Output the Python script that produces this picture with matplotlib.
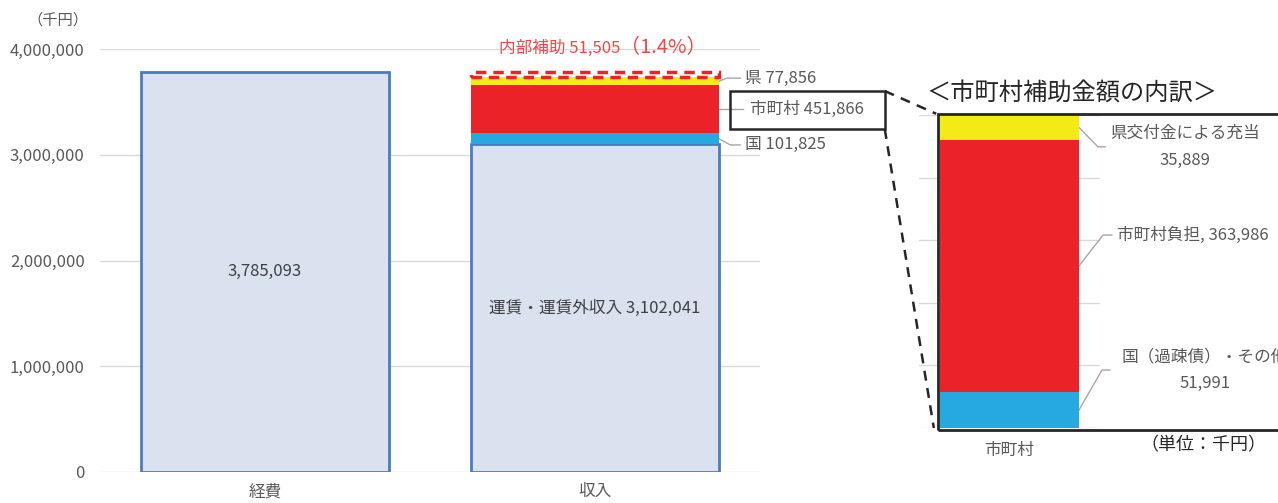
import matplotlib
matplotlib.use("Agg")
import matplotlib.pyplot as plt
from matplotlib.patches import Rectangle
from matplotlib.lines import Line2D

plt.rcParams['font.family'] = ['Noto Sans CJK JP', 'DejaVu Sans']

#%% data (千円)
categories = ['経費', '収入']
expense_total = 3785093
fare_income = 3102041
income_parts = ['国', '市町村', '県']
income_values = [101825, 451866, 77856]
internal_subsidy = 51505

detail_category = '市町村'
detail_parts = ['国（過疎債）・その他', '市町村負担', '県交付金による充当']
detail_values = [51991, 363986, 35889]

yticks = [0, 1000000, 2000000, 3000000, 4000000]

#%% colours
base_fill = '#DAE2EF'
base_edge = '#4A7CC2'
part_colors = ['#25A9E0', '#EB2227', '#F3EA16']
text_gray = '#595959'
grid_gray = '#D9D9D9'

fig = plt.figure(figsize=(12.78, 5.03), dpi=100)

#%% main chart
ax = fig.add_axes([100/1278, 31/503, 660/1278, 423/503])
w = 0.75
ax.bar(0, expense_total, width=w, color=base_fill, edgecolor=base_edge, linewidth=2, zorder=2)
ax.bar(1, fare_income, width=w, color=base_fill, edgecolor=base_edge, linewidth=2, zorder=2)
bottom = fare_income
mids = []
for val, col in zip(income_values, part_colors):
    ax.bar(1, val, width=w, bottom=bottom, color=col, linewidth=0, zorder=3)
    mids.append(bottom + val / 2)
    bottom += val
ax.bar(1, internal_subsidy, width=w, bottom=bottom, fill=False, edgecolor='#EB2227',
       linestyle=(0, (3, 2)), linewidth=2.5, zorder=4)

ax.set_xlim(-0.5, 1.5)
ax.set_ylim(0, 4000000)
ax.set_yticks(yticks)
ax.set_yticklabels([f'{v:,}' for v in yticks])
ax.set_xticks([0, 1])
ax.set_xticklabels(categories)
ax.tick_params(axis='both', length=0, labelsize=12, colors=text_gray)
ax.tick_params(axis='y', pad=11)
ax.tick_params(axis='x', pad=8)
ax.grid(axis='y', color=grid_gray, linewidth=1, zorder=0)
ax.set_axisbelow(True)
for s in ax.spines.values():
    s.set_visible(False)

ax.text(0, expense_total / 2, f'{expense_total:,}', ha='center', va='center', fontsize=12, color='#404040')
ax.text(1, fare_income / 2, f'運賃・運賃外収入 {fare_income:,}', ha='center', va='center',
        fontsize=12, color='#404040')
fig.text(58/1278, 1 - 20/503, '（千円）', ha='center', va='center', fontsize=11, color=text_gray)

# leader labels on the right of the income bar
edge = 1 + w / 2
lc = '#A6A6A6'
# 県
yk = mids[2] + 30000
ax.plot([edge, 1.40, 1.44], [mids[2], yk, yk], color=lc, lw=1, clip_on=False)
ax.text(1.455, yk, f'{income_parts[2]} {income_values[2]:,}', ha='left', va='center', fontsize=12, color=text_gray)
# 市町村 (boxed)
ax.plot([edge, 1.448], [mids[1], mids[1]], color=lc, lw=1, clip_on=False)
box_x0, box_x1 = 1.409, 1.878
box_y0, box_y1 = 3243500, 3602800
box = Rectangle((box_x0, box_y0), box_x1 - box_x0, box_y1 - box_y0, fill=False,
                edgecolor='#262626', lw=1.8, clip_on=False, zorder=5)
ax.add_patch(box)
ax.text((box_x0 + box_x1) / 2, mids[1], f'{income_parts[1]} {income_values[1]:,}', ha='center',
        va='center', fontsize=12, color=text_gray)
# 国
yn = mids[0] - 60000
ax.plot([edge, 1.41, 1.44], [mids[0], yn, yn], color=lc, lw=1, clip_on=False)
ax.text(1.455, yn, f'{income_parts[0]} {income_values[0]:,}', ha='left', va='center', fontsize=12, color=text_gray)

# internal subsidy label
pct = internal_subsidy / expense_total * 100
ax.text(1.077, 4009000, f'内部補助 {internal_subsidy:,}', ha='right', va='center', fontsize=12,
        color='#F04848', clip_on=False)
ax.text(1.077, 4009000, f'（{pct:.1f}%）', ha='left', va='center', fontsize=14.5,
        color='#F04848', clip_on=False)

#%% detail chart
ax2 = fig.add_axes([919/1278, 75/503, 181/1278, 313/503])
dw = 0.768
dbottom = 0
dmids = []
for val, col in zip(detail_values, part_colors):
    ax2.bar(0, val, width=dw, bottom=dbottom, color=col, linewidth=0, zorder=3)
    dmids.append(dbottom + val / 2)
    dbottom += val
total_detail = sum(detail_values)
ax2.set_xlim(-0.5, 0.5)
ax2.set_ylim(0, total_detail)
ax2.set_yticks([total_detail * i / 5 for i in range(6)])
ax2.set_yticklabels([])
ax2.set_xticks([0])
ax2.set_xticklabels([detail_category])
ax2.tick_params(axis='both', length=0, labelsize=12, colors=text_gray)
ax2.tick_params(axis='x', pad=10)
ax2.grid(axis='y', color=grid_gray, linewidth=1, zorder=0)
ax2.set_axisbelow(True)
for s in ax2.spines.values():
    s.set_visible(False)

frame = Rectangle((0.105, -0.007), 2.0, 1.011, transform=ax2.transAxes, fill=False,
                  edgecolor='#262626', lw=2, clip_on=False, zorder=6)
ax2.add_patch(frame)

dedge = dw / 2
# 県交付金
yy = dmids[2] - 28000
ax2.plot([dedge, 0.489, 0.528], [dmids[2], yy, yy], color=lc, lw=1, clip_on=False)
ax2.text(0.97, yy, f'{detail_parts[2]}\n{detail_values[2]:,}', ha='center', va='center',
         fontsize=12, color=text_gray, linespacing=1.75, clip_on=False)
# 市町村負担
yr = dmids[1] + 44600
ax2.plot([dedge, 0.517, 0.566], [dmids[1], yr, yr], color=lc, lw=1, clip_on=False)
ax2.text(0.594, yr, f'{detail_parts[1]}, {detail_values[1]:,}', ha='left', va='center',
         fontsize=12, color=text_gray, clip_on=False)
# 国（過疎債）
yb = dmids[0] + 57700
ax2.plot([dedge, 0.511, 0.555], [dmids[0], yb, yb], color=lc, lw=1, clip_on=False)
ax2.text(1.08, yb, f'{detail_parts[0]}\n{detail_values[0]:,}', ha='center', va='center',
         fontsize=12, color=text_gray, linespacing=1.75, clip_on=False)

fig.text(926/1278, 1 - 94/503, '＜市町村補助金額の内訳＞', ha='left', va='center',
         fontsize=17.5, color='#262626')
fig.text(1203/1278, 1 - 445/503, '（単位：千円）', ha='center', va='center', fontsize=13, color='#262626')

# dashed connectors from boxed label to detail frame
to_fig = fig.transFigure.inverted()
pairs = [((box_x1, box_y1), (0.095, 1.004)), ((box_x1, box_y0), (0.082, 0.0))]
for pa, pb in pairs:
    fa = to_fig.transform(ax.transData.transform(pa))
    fb = to_fig.transform(ax2.transAxes.transform(pb))
    fig.add_artist(Line2D([fa[0], fb[0]], [fa[1], fb[1]], transform=fig.transFigure,
                          color='#262626', lw=1.8, linestyle=(0, (4, 3))))

fig.savefig('out.png', dpi=100)
